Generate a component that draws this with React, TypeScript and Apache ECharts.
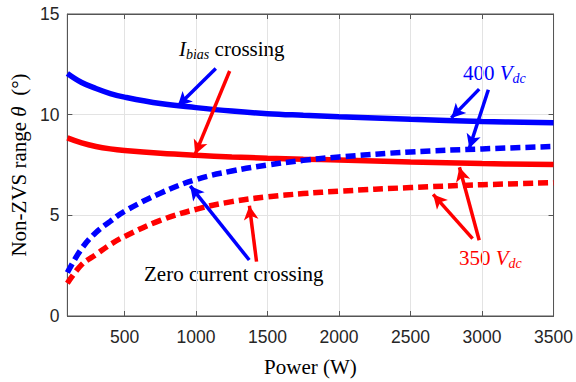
import React, { useEffect, useRef } from "react";
import * as echarts from "echarts";

// Output power (W)
const power = [100, 200, 300, 400, 500, 750, 1000, 1250, 1500, 1750, 2000, 2500, 3000, 3500];

// Non-ZVS range (deg) per crossing criterion and DC-link voltage
const ibias400 = [12.05, 11.6, 11.3, 11.05, 10.87, 10.55, 10.35, 10.18, 10.05, 9.97, 9.9, 9.77, 9.66, 9.6];
const ibias350 = [8.85, 8.6, 8.42, 8.3, 8.22, 8.08, 7.98, 7.9, 7.84, 7.79, 7.75, 7.65, 7.57, 7.52];
const zero400 = [2.16, 3.35, 4.15, 4.7, 5.2, 6.1, 6.78, 7.2, 7.5, 7.73, 7.9, 8.15, 8.3, 8.42];
const zero350 = [1.63, 2.55, 3.05, 3.55, 3.95, 4.75, 5.3, 5.68, 5.92, 6.08, 6.2, 6.38, 6.52, 6.62];

// Annotation arrows: [fromPower, fromDeg, toPower, toDeg, colour]
const arrows: [number, number, number, number, string][] = [
  [1138, 12.29, 872, 10.43, "#0000ff"],
  [1235, 12.17, 994, 8.04, "#ff0000"],
  [2980, 11.27, 2785, 9.84, "#0000ff"],
  [3044, 11.24, 2911, 8.33, "#0000ff"],
  [1372, 2.78, 959, 6.46, "#0000ff"],
  [1423, 2.7, 1373, 5.48, "#ff0000"],
  [2934, 3.84, 2658, 6.04, "#ff0000"],
  [2980, 3.76, 2842, 7.39, "#ff0000"],
];

const SERIF = '"Liberation Serif", "Times New Roman", serif';
const SANS = '"Liberation Sans", Arial, sans-serif';
const BLUE = "#0000ff";
const RED = "#ff0000";
const AXIS = "#555555";

const pairs = (ys: number[]) => power.map((p, i) => [p, ys[i]]);

function richLabel(left: number, cy: number, parts: any[], color: string) {
  return {
    type: "text",
    left,
    top: cy - 15,
    silent: true,
    style: {
      text: parts.join(""),
      fill: color,
      font: `21px ${SERIF}`,
      rich: {
        n: { fontFamily: SERIF, fontSize: 21, lineHeight: 30, verticalAlign: "middle", fill: color },
        it: { fontFamily: SERIF, fontSize: 21, fontStyle: "italic", lineHeight: 30, verticalAlign: "middle", fill: color },
        sub: { fontFamily: SERIF, fontSize: 14, fontStyle: "italic", lineHeight: 14, verticalAlign: "bottom", fill: color, padding: [0, 0, 2, 0] },
      },
    },
  };
}

export default function App() {
  const ref = useRef<HTMLDivElement>(null);

  useEffect(() => {
    if (!ref.current) return;
    const chart = echarts.init(ref.current, undefined, { renderer: "svg" });

    const curve = (name: string, ys: number[], color: string, dashed: boolean, extra: any = {}) => ({
      name,
      type: "line",
      data: pairs(ys),
      smooth: 0.4,
      showSymbol: false,
      symbol: "none",
      silent: true,
      lineStyle: { color, width: 5.5, type: dashed ? [10, 5] : "solid", cap: "butt" },
      z: 3,
      ...extra,
    });

    chart.setOption({
      animation: false,
      grid: { left: 62, right: 22, top: 14, bottom: 61, show: true, borderColor: AXIS, borderWidth: 1 },
      xAxis: [
        {
          type: "value",
          min: 100,
          max: 3500,
          splitNumber: 7,
          name: "Power (W)",
          nameLocation: "middle",
          nameGap: 40,
          nameTextStyle: { fontFamily: SERIF, fontSize: 21, color: "#000" },
          axisLine: { show: true, onZero: false, lineStyle: { color: AXIS } },
          axisTick: { show: true, inside: true, length: 5, lineStyle: { color: AXIS } },
          axisLabel: {
            fontFamily: SANS,
            fontSize: 17.5,
            color: "#262626",
            margin: 12,
            showMinLabel: false,
            formatter: (v: number) => (v % 500 === 0 ? String(v) : ""),
          },
          splitLine: { show: true, lineStyle: { color: "#e3e3e3", width: 1 } },
        },
        {
          type: "value",
          position: "top",
          min: 100,
          max: 3500,
          splitNumber: 7,
          axisLine: { show: true, onZero: false, lineStyle: { color: AXIS } },
          axisTick: { show: true, inside: true, length: 5, lineStyle: { color: AXIS } },
          axisLabel: { show: false },
          splitLine: { show: false },
        },
      ],
      yAxis: [
        {
          type: "value",
          min: 0,
          max: 15,
          interval: 5,
          name: "{n|Non-ZVS range }{it|θ}{n|  (°)}",
          nameLocation: "middle",
          nameGap: 36,
          nameRotate: 90,
          nameTextStyle: {
            fontFamily: SERIF,
            fontSize: 21,
            color: "#000",
            rich: {
              n: { fontFamily: SERIF, fontSize: 21, color: "#000" },
              it: { fontFamily: SERIF, fontSize: 21, fontStyle: "italic", color: "#000" },
            },
          },
          axisLine: { show: true, onZero: false, lineStyle: { color: AXIS } },
          axisTick: { show: true, inside: true, length: 5, lineStyle: { color: AXIS } },
          axisLabel: { fontFamily: SANS, fontSize: 17.5, color: "#262626", margin: 8 },
          splitLine: { show: true, lineStyle: { color: "#e3e3e3", width: 1 } },
        },
        {
          type: "value",
          position: "right",
          min: 0,
          max: 15,
          interval: 5,
          axisLine: { show: true, onZero: false, lineStyle: { color: AXIS } },
          axisTick: { show: true, inside: true, length: 5, lineStyle: { color: AXIS } },
          axisLabel: { show: false },
          splitLine: { show: false },
        },
      ],
      series: [
        curve("Ibias 400", ibias400, BLUE, false),
        curve("Ibias 350", ibias350, RED, false),
        curve("Zero 400", zero400, BLUE, true),
        curve("Zero 350", zero350, RED, true, {
          markLine: {
            silent: true,
            symbol: ["none", "arrow"],
            symbolSize: [11, 14],
            label: { show: false },
            emphasis: { disabled: true },
            data: arrows.map(([x1, y1, x2, y2, c]) => [
              { coord: [x1, y1], lineStyle: { color: c, width: 3.5, type: "solid" }, itemStyle: { color: c } },
              { coord: [x2, y2] },
            ]),
          },
        }),
      ],
      graphic: [
        richLabel(179, 53, ["{it|I}", "{sub|bias}", "{n| crossing}"], "#000"),
        richLabel(463, 77, ["{n|400 }", "{it|V}", "{sub|dc}"], BLUE),
        richLabel(144, 278, ["{n|Zero current crossing}"], "#000"),
        richLabel(459, 262, ["{n|350 }", "{it|V}", "{sub|dc}"], RED),
      ],
    });

    return () => chart.dispose();
  }, []);

  return (
    <div
      ref={ref}
      style={{ position: "fixed", left: 0, top: 0, width: 576, height: 382, background: "#fff" }}
    />
  );
}
